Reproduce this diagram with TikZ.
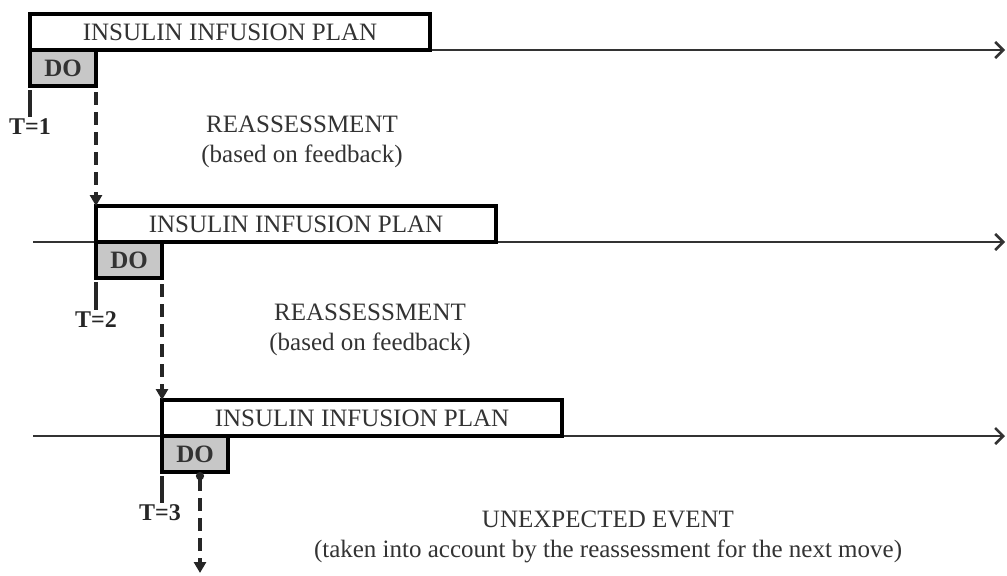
\documentclass[tikz,border=0pt]{standalone}
\usepackage{fontspec}
\setmainfont{Liberation Serif}
\usetikzlibrary{arrows.meta}

\tikzset{
  plan/.style={draw, line width=2.3pt, fill=white, minimum width=200pt, minimum height=18pt,
    inner sep=0pt, outer sep=0pt, font=\fontsize{12.5}{15}\selectfont, text=black!80},
  dobox/.style={draw, line width=2.3pt, fill=black!22, minimum width=33pt, minimum height=18pt,
    inner sep=0pt, outer sep=0pt, font=\fontsize{12.5}{15}\selectfont\bfseries, text=black!80},
  timeline/.style={line width=1.1pt, draw=black!80, -{Straight Barb[length=4pt,width=8pt,line width=1.3pt]}},
  tick/.style={line width=2.2pt, draw=black!85},
  tlabel/.style={inner sep=1pt, font=\fontsize{12}{14}\selectfont\bfseries, text=black!85},
  reassess/.style={line width=1.8pt, draw=black!85, dash pattern=on 6.5pt off 3.5pt,
    -{Triangle[length=5.5pt,width=6pt]}},
  note/.style={align=center, font=\fontsize{12.5}{15}\selectfont, text=black!80}
}

\begin{document}
\begin{tikzpicture}[x=0.5pt, y=-0.5pt]
  \useasboundingbox (0,0) rectangle (1007,575);

  % time lines
  \coordinate (e1) at (1005,50);
  \coordinate (b2) at (33,242);
  \coordinate (e2) at (1005,242);
  \coordinate (b3) at (33,436);
  \coordinate (e3) at (1005,436);
  \draw[timeline] (30,50) -- (e1);
  \draw[timeline] (b2) -- (e2);
  \draw[timeline] (b3) -- (e3);

  % plans and DO steps
  \node[plan, anchor=south west] (p1) at (30,50) {INSULIN INFUSION PLAN};
  \node[dobox, anchor=north west] (d1) at (30,50) {DO};
  \node[plan, anchor=south west] (p2) at (96,242) {INSULIN INFUSION PLAN};
  \node[dobox, anchor=north west] (d2) at (96,242) {DO};
  \node[plan, anchor=south west] (p3) at (162,436) {INSULIN INFUSION PLAN};
  \node[dobox, anchor=north west] (d3) at (162,436) {DO};

  % time marks
  \node[tlabel] (t1) at (30,127) {T=1};
  \node[tlabel] (t2) at (96,320) {T=2};
  \node[tlabel] (t3) at (160,513) {T=3};
  \draw[tick] ([yshift=-2pt]d1.south west) -- (t1.north -| d1.south west);
  \draw[tick] ([yshift=-2pt]d2.south west) -- (t2.north -| d2.south west);
  \draw[tick] ([yshift=-2pt]d3.south west) -- (t3.north -| d3.south west);

  % reassessment
  \node[note] (r1) at (302,142) {REASSESSMENT\\(based on feedback)};
  \node[note] (r2) at (370,330) {REASSESSMENT\\(based on feedback)};
  \node[note] (r3) at (608,537) {UNEXPECTED EVENT\\(taken into account by the reassessment for the next move)};

  \draw[reassess] ([yshift=-3pt]d1.south east) -- (p2.north west);
  \draw[reassess] ([yshift=-3pt]d2.south east) -- (p3.north west);
  \coordinate (u3) at (200,573);
  \draw[reassess, {Circle[length=4pt]}-{Triangle[length=5.5pt,width=6pt]}] (u3 |- d3.south) -- (u3);
\end{tikzpicture}
\end{document}
